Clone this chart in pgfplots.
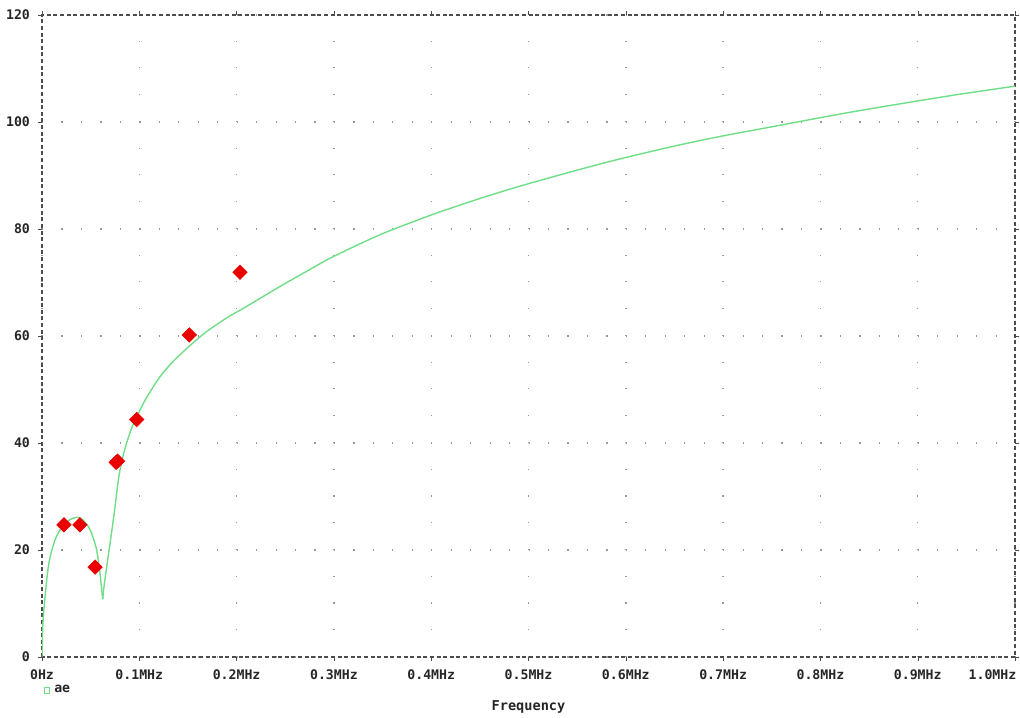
\documentclass[border=0pt]{standalone}
\usepackage{fontspec}
\setmonofont{DejaVu Sans Mono}
\usepackage{pgfplots}
\pgfplotsset{compat=1.18}
\definecolor{curvegreen}{RGB}{110,222,135}
\definecolor{mkred}{RGB}{235,0,0}
\begin{document}
\begin{tikzpicture}
\begin{axis}[
  at={(0,0)}, anchor=south west,
  scale only axis, width=486.5pt, height=321pt,
  xmin=0, xmax=1.0, ymin=0, ymax=120,
  xtick={0,0.1,0.2,0.3,0.4,0.5,0.6,0.7,0.8,0.9,1.0},
  xticklabels={0Hz,0.1MHz,0.2MHz,0.3MHz,0.4MHz,0.5MHz,0.6MHz,0.7MHz,0.8MHz,0.9MHz,\makebox[0.2em][r]{1.0MHz}},
  ytick={0,20,40,60,80,100,120},
  yticklabels={0,20,40,60,80,100,120},
  tick align=outside, major tick length=2pt,
  tick style={black!70, solid},
  ticklabel style={font=\ttfamily\bfseries\fontsize{6.6}{7}\selectfont, text=black!85},
  xticklabel style={yshift=-1pt},
  yticklabel style={xshift=-0.5pt},
  axis line style={draw=black!70, line width=0.6pt, dash pattern=on 2pt off 1.3pt},
  xmajorgrids, ymajorgrids,
  x grid style={draw=black!40, line width=0.7pt, dash pattern=on 0.6pt off 12.775pt},
  y grid style={draw=black!40, line width=0.7pt, dash pattern=on 0.6pt off 9.13pt},
  xlabel={Frequency},
  xlabel style={at={(axis description cs:0.5,-0.078)}, anchor=center, font=\ttfamily\bfseries\fontsize{6.8}{7}\selectfont, text=black!85},
  legend style={at={(axis description cs:0.002,-0.052)}, anchor=west, draw=none, fill=none,
    font=\ttfamily\bfseries\fontsize{6.6}{7}\selectfont, text=black!85, inner sep=0pt},
  legend cell align=left,
  legend image code/.code={\draw[curvegreen, line width=0.4pt, solid] (0.02cm,-0.045cm) rectangle (0.11cm,0.045cm);},
]
\addplot[curvegreen, line width=0.7pt, mark=none, smooth, tension=0.4] coordinates {
(0,0) (0.0005,4.0) (0.001,6.5) (0.002,9.0) (0.003,10.9) (0.0045,13.8) (0.0065,16.9)
(0.009,19.2) (0.0134,21.9) (0.018,23.6) (0.0237,25.0) (0.03,25.8) (0.0357,26.1)
(0.041,25.8) (0.0476,24.4) (0.052,22.6) (0.0562,20.0) (0.0596,15.7) (0.061,13.2)
(0.0624,10.8)
};
\addlegendentry{ae}
\addplot[curvegreen, line width=0.7pt, mark=none, smooth, tension=0.5, forget plot] coordinates {
(0.0624,10.8) (0.0635,12.8) (0.0665,16.9) (0.071,22.6) (0.075,28.0) (0.0784,33.0)
(0.082,36.6) (0.087,40.0) (0.0922,42.8) (0.1,45.9) (0.106,48.0) (0.115,50.7) (0.123,52.8)
(0.135,55.3) (0.152,58.2) (0.169,60.8) (0.19,63.4) (0.21,65.5) (0.245,69.3)
(0.275,72.4) (0.3,74.9) (0.347,78.9) (0.388,81.8) (0.409,83.2) (0.45,85.7)
(0.491,88.0) (0.55,91.0) (0.594,93.1) (0.65,95.5) (0.697,97.3) (0.75,99.1)
(0.779,100.1) (0.83,101.8) (0.882,103.4) (0.94,105.1) (1.0,106.7)
};
\addplot[only marks, mark=square*, mark size=2.5pt, mark options={rotate=45, fill=mkred, draw=mkred, solid}, forget plot] coordinates {
(0.0226,24.7) (0.039,24.7) (0.0545,16.8) (0.0762,36.4) (0.0777,36.6) (0.0974,44.4) (0.1514,60.2) (0.2035,71.9)
};
\end{axis}
\pgfresetboundingbox
\path (-21pt,-30pt) rectangle (489pt,328.5pt);
\end{tikzpicture}
\end{document}
